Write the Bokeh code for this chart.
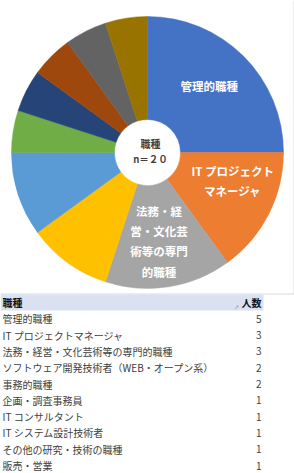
import numpy as np
from bokeh.plotting import figure
from bokeh.models import Range1d, ColumnDataSource
from bokeh.core.properties import value
from bokeh.embed import file_html
from bokeh.resources import INLINE

# ---- data ----
categories = [
    "管理的職種",
    "IT プロジェクトマネージャ",
    "法務・経営・文化芸術等の専門的職種",
    "ソフトウェア開発技術者（WEB・オープン系）",
    "事務的職種",
    "企画・調査事務員",
    "IT コンサルタント",
    "IT システム設計技術者",
    "その他の研究・技術の職種",
    "販売・営業",
]
counts = [5, 3, 3, 2, 2, 1, 1, 1, 1, 1]
pie_labels = [
    "管理的職種",
    "IT プロジェクト\nマネージャ",
    "法務・経\n営・文化芸\n術等の専門\n的職種",
    "", "", "", "", "", "", "",
]
center_title = "職種"
n_text = "n＝２０"
header = ["職種", "人数"]

# ---- style ----
colors = ["#4472C4", "#ED7D31", "#A5A5A5", "#FFC000", "#5B9BD5",
          "#70AD47", "#264478", "#9E480E", "#636363", "#997300"]
W, H = 294, 473
FONT = "Noto Sans CJK JP"
cx, cy_pix = 147, 152
R_OUT, R_IN = 136, 33
label_r = 90
label_nudge = [(-2, -3), (5, -12), (-2.5, 0)] + [(0, 0)] * 7


def Y(yp):
    return H - yp


p = figure(width=W, height=H, output_backend="svg", toolbar_location=None,
           x_range=Range1d(0, W), y_range=Range1d(0, H),
           x_axis_location=None, y_axis_location=None, min_border=0,
           outline_line_color=None, background_fill_color="white")
p.xgrid.visible = False
p.ygrid.visible = False

# chart border
p.rect(x=[(293.5 - 1) / 2], y=[Y((293.5 - 1) / 2)], width=[294.5], height=[294.5],
       fill_color=None, line_color="#D9D9D9", line_width=1)

# ---- donut ----
vals = np.array(counts, dtype=float)
total = vals.sum()
cum = np.concatenate([[0], np.cumsum(vals)])
start = np.pi / 2 - cum[1:] / total * 2 * np.pi
end = np.pi / 2 - cum[:-1] / total * 2 * np.pi
mid = (start + end) / 2
src = ColumnDataSource(dict(x=[cx] * len(vals), y=[Y(cy_pix)] * len(vals),
                            start=start, end=end, color=colors))
p.annular_wedge(x="x", y="y", inner_radius=R_IN, outer_radius=R_OUT,
                start_angle="start", end_angle="end", direction="anticlock",
                fill_color="color", line_color="color", line_width=0.5, source=src)

lx = [cx + label_r * np.cos(m) + d[0] for m, d in zip(mid, label_nudge)]
ly = [Y(cy_pix) + label_r * np.sin(m) - d[1] for m, d in zip(mid, label_nudge)]
p.text(x=lx, y=ly, text=pie_labels, text_font=value(FONT), text_font_size="11.5px",
       text_font_style="bold", text_color="white", text_align="center",
       text_baseline="middle", text_line_height=1.26)

# center text
p.text(x=[cx + 3], y=[Y(143)], text=[center_title], text_font=value(FONT),
       text_font_size="10px", text_font_style="bold", text_color="#404040",
       text_align="center", text_baseline="middle")
p.text(x=[cx + 3], y=[Y(158)], text=[n_text], text_font=value(FONT),
       text_font_size="9.5px", text_font_style="bold", text_color="#404040",
       text_align="center", text_baseline="middle")

# ---- table ----
tbl_right = 263
hdr_top, hdr_bot = 294, 310
p.quad(left=[0], right=[tbl_right], top=[Y(hdr_top)], bottom=[Y(hdr_bot)],
       fill_color="#D9E1F2", line_color=None)
p.text(x=[2], y=[Y(302)], text=[header[0]], text_font=value(FONT),
       text_font_size="10px", text_font_style="bold", text_color="#111111",
       text_align="left", text_baseline="middle")
p.text(x=[261], y=[Y(302)], text=[header[1]], text_font=value(FONT),
       text_font_size="10px", text_font_style="bold", text_color="#111111",
       text_align="right", text_baseline="middle")
p.text(x=[236], y=[Y(306)], text=["↗"], text_font=value(FONT),
       text_font_size="5px", text_color="#808080",
       text_align="center", text_baseline="middle")

row_y = [Y(318.3 + 16.3 * i) for i in range(len(categories))]
p.text(x=[2] * len(categories), y=row_y, text=categories, text_font=value(FONT),
       text_font_size="10px", text_color="#404040",
       text_align="left", text_baseline="middle")
p.text(x=[261] * len(categories), y=row_y, text=[str(c) for c in counts],
       text_font=value(FONT), text_font_size="10px", text_color="#404040",
       text_align="right", text_baseline="middle")

open("out.html", "w").write(file_html(p, INLINE))
